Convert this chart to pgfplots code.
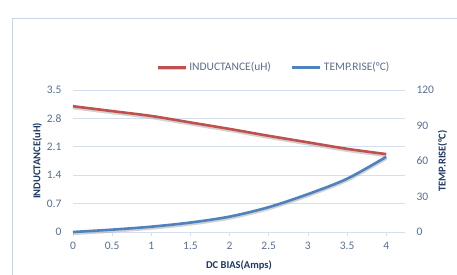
\documentclass[border=0pt]{standalone}
\usepackage{pgfplots}
\pgfplotsset{compat=1.18}
\usepackage{fontspec}
\setmainfont{Carlito}
\definecolor{tickc}{RGB}{89,110,145}
\definecolor{labc}{RGB}{31,56,100}
\definecolor{gridc}{RGB}{214,223,238}
\definecolor{framec}{RGB}{197,213,234}
\definecolor{redl}{RGB}{192,80,77}
\definecolor{bluel}{RGB}{79,129,189}
\begin{document}
\begin{tikzpicture}[x=1pt,y=1pt]
\useasboundingbox (0,0) rectangle (457,275);
\draw[framec, line width=0.8pt] (12,-10) -- (12,257) -- (470,257);
\begin{axis}[
  at={(73pt,43pt)}, anchor=south west,
  scale only axis, width=332pt, height=142pt,
  xmin=0, xmax=4.24, ymin=0, ymax=3.5,
  /pgf/number format/assume math mode=true,
  axis line style={draw=none},
  ymajorgrids, grid style={gridc, line width=0.8pt},
  xtick={0,0.5,1,1.5,2,2.5,3,3.5,4},
  xticklabels={0,0.5,1,1.5,2,2.5,3,3.5,4},
  ytick={0,0.7,1.4,2.1,2.8,3.5},
  yticklabels={0,0.7,1.4,2.1,2.8,3.5},
  xtick pos=bottom, tick align=outside,
  major tick length=4pt,
  xtick style={gridc, line width=0.8pt},
  ytick style={draw=none},
  ticklabel style={font=\fontsize{11.5}{13}\selectfont, text=tickc},
  yticklabel style={xshift=-4pt},
  xticklabel style={yshift=-3pt},
  xlabel={\textbf{DC BIAS(Amps)}},
  ylabel={\textbf{INDUCTANCE(uH)}},
  label style={font=\fontsize{10.5}{12}\selectfont, text=labc},
  xlabel style={yshift=-4pt},
  ylabel style={yshift=-2pt},
  legend style={draw=none, fill=none, at={(0.605,1.16)}, anchor=center,
    legend columns=2, font=\fontsize{11.5}{13}\selectfont, text=tickc,
    /tikz/every even column/.append style={column sep=18pt}},
  legend image code/.code={\draw[#1, line width=3pt] (0pt,0pt) -- (28pt,0pt);},
  clip=false,
]
\addplot[redl, line width=2.6pt, smooth,
  preaction={draw, black!35, opacity=0.5, line width=2.6pt, transform canvas={yshift=-1.8pt}}]
  coordinates {(0,3.10) (0.5,2.98) (1,2.86) (1.5,2.70) (2,2.54) (2.5,2.37) (3,2.21) (3.5,2.05) (4,1.92)};
\addlegendentry{INDUCTANCE(uH)}
\addlegendimage{bluel}
\addlegendentry{TEMP.RISE(°C)}
\end{axis}
\begin{axis}[
  at={(73pt,43pt)}, anchor=south west,
  scale only axis, width=332pt, height=142pt,
  xmin=0, xmax=4.24, ymin=0, ymax=120,
  /pgf/number format/assume math mode=true,
  axis line style={draw=none},
  xtick=\empty,
  ytick={0,30,60,90,120},
  yticklabel pos=right,
  ytick style={draw=none},
  ticklabel style={font=\fontsize{11.5}{13}\selectfont, text=tickc},
  yticklabel style={xshift=8pt},
  ylabel={\textbf{TEMP.RISE(°C)}},
  ylabel near ticks,
  label style={font=\fontsize{10.5}{12}\selectfont, text=labc},
  ylabel style={yshift=3pt},
  clip=false,
]
\addplot[bluel, line width=2.6pt, smooth,
  preaction={draw, black!35, opacity=0.5, line width=2.6pt, transform canvas={yshift=-1.8pt}}]
  coordinates {(0,0) (0.5,2) (1,4.5) (1.5,8) (2,13) (2.5,21) (3,32) (3.5,45) (4,63.5)};
\end{axis}
\end{tikzpicture}
\end{document}
